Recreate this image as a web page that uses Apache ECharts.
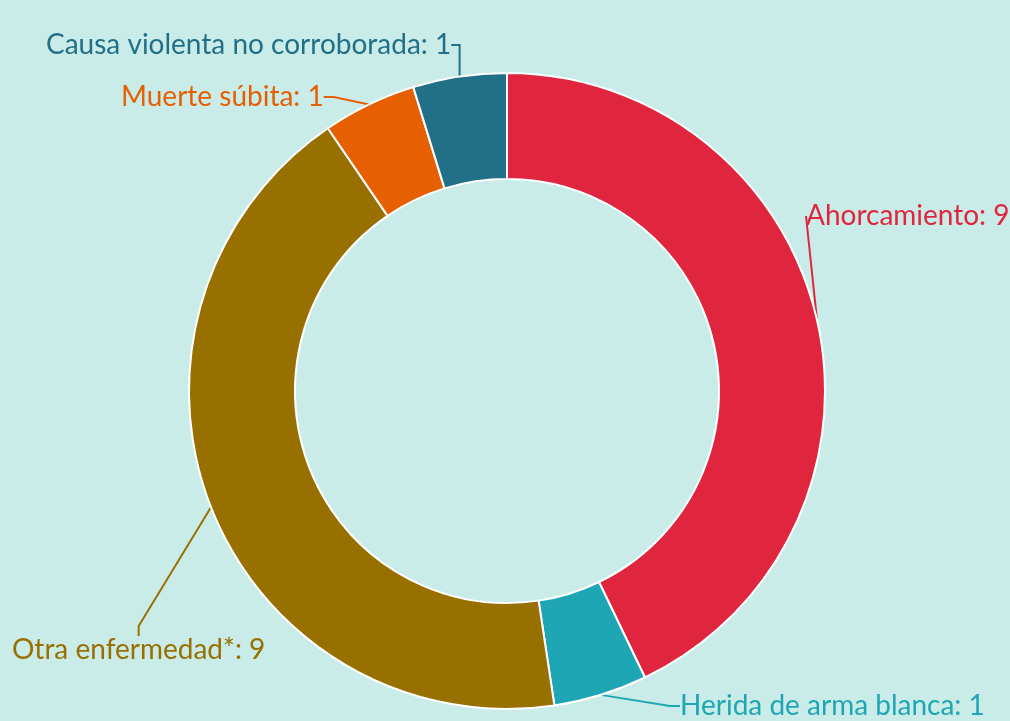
<!DOCTYPE html>
<html>
<head>
<meta charset="utf-8">
<script src="https://cdn.jsdelivr.net/npm/echarts@6/dist/echarts.min.js"></script>
<style>
  html, body { margin: 0; padding: 0; background: #caece8; }
  #chart { width: 1010px; height: 721px; }
</style>
</head>
<body>
<div id="chart"></div>
<script>
  // categorías y valores
  const categories = ['Ahorcamiento', 'Herida de arma blanca', 'Otra enfermedad*', 'Muerte súbita', 'Causa violenta no corroborada']
  const values = [9, 1, 9, 1, 1]
  const colors = ['#e0263f', '#1fa6b4', '#987000', '#e65f00', '#226f88']

  // posición de las etiquetas (izquierda, centro vertical)
  const labelPos = [[806, 216], [680, 706], [12, 650], [121, 97], [46, 45]]

  let chart = echarts.init(document.getElementById('chart'))
  chart.setOption({
    backgroundColor: '#caece8',
    animation: false,
    series: [{
      type: 'pie',
      center: [507, 391],
      radius: [212, 318],
      startAngle: 90,
      clockwise: true,
      itemStyle: { borderColor: '#ffffff', borderWidth: 2 },
      label: {
        show: true,
        position: 'outside',
        formatter: '{b}: {c}',
        fontFamily: 'Lato',
        fontSize: 28,
        overflow: 'none',
        width: 500
      },
      labelLine: { show: true, length: 10, length2: 10, lineStyle: { width: 2 } },
      labelLayout: function (params) {
        let p = labelPos[params.dataIndex]
        return { x: p[0], y: p[1], align: 'left', verticalAlign: 'middle', width: 500 }
      },
      emphasis: { disabled: true },
      data: categories.map((name, i) => ({
        name: name,
        value: values[i],
        itemStyle: { color: colors[i] },
        label: { color: colors[i] },
        labelLine: { lineStyle: { color: colors[i] } }
      }))
    }]
  })
</script>
</body>
</html>
